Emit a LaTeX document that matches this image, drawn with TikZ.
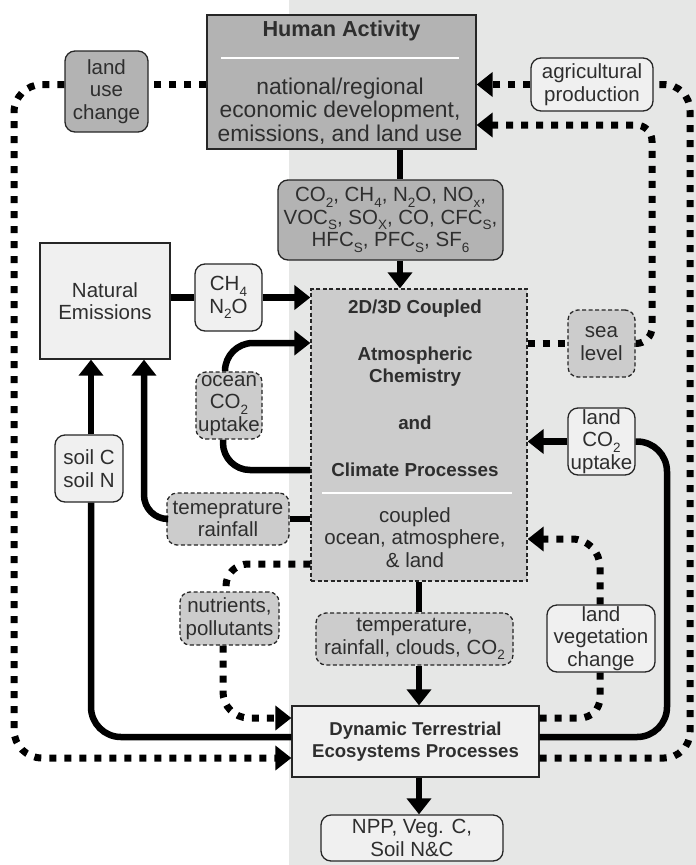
\documentclass[tikz,border=0pt]{standalone}
\usepackage{fontspec}
\setmainfont{Liberation Sans}
\usetikzlibrary{arrows.meta}
\definecolor{bg}{HTML}{E6E7E6}
\definecolor{dgray}{HTML}{B3B3B3}
\definecolor{mgray}{HTML}{CCCCCC}
\definecolor{lgray}{HTML}{F0F0F0}
\definecolor{txt}{HTML}{2E2E2E}
\newcommand\subs[1]{\raisebox{-0.28em}{\fontsize{13.5}{13.5}\selectfont #1}}
\tikzset{
  thk/.style={line width=6.5pt, draw=black},
  dots/.style={line width=7pt, draw=black, dash pattern=on 7pt off 8pt},
  tip/.style={-{Triangle[length=16pt,width=24pt]}},
  boxbase/.style={draw=black!85, line width=1.3pt, text=txt, inner sep=0pt, align=center,
    font=\fontsize{20.5}{22.5}\selectfont},
  dbox/.style={boxbase, fill=dgray},
  mbox/.style={boxbase, fill=mgray, dash pattern=on 4pt off 2.5pt},
  lbox/.style={boxbase, fill=lgray},
  rnd/.style={rounded corners=10pt},
  bfont/.style={text=txt, font=\bfseries\fontsize{18.8}{22.5}\selectfont, align=center},
  rfont/.style={text=txt, font=\fontsize{20.5}{22.5}\selectfont, align=center},
}
\begin{document}
\begin{tikzpicture}[x=1pt,y=-1pt]
\useasboundingbox (0,0) rectangle (696,865);
\fill[bg] (289,0) rectangle (696,865);

% boxes
\node[dbox, minimum width=269pt, minimum height=134pt] (ha) at (341.5,82) {};
\node[text=txt, font=\bfseries\fontsize{21.7}{24}\selectfont] (hat) at (341.5,31) {Human Activity};
\draw[white, line width=2pt] (221,58) -- (459,58);
\node[text=txt, align=center, font=\fontsize{22.8}{23.5}\selectfont] (hab) at (340,111)
  {national/regional\\economic development,\\emissions, and land use};

\node[dbox, rnd, minimum width=225pt, minimum height=80pt] (em) at (390.5,220)
  {CO\subs{2}, CH\subs{4}, N\subs{2}O, NO\subs{x},\\VOC\subs{S}, SO\subs{X}, CO, CFC\subs{S},\\HFC\subs{S}, PFC\subs{S}, SF\subs{6}};

\node[mbox, minimum width=216pt, minimum height=292pt] (cp) at (419,435) {};
\node[bfont] (cp1) at (415,309) {2D/3D Coupled};
\node[bfont] (cp2) at (415,366.5) {Atmospheric\\Chemistry};
\node[bfont] (cp3) at (415,423) {and};
\node[bfont] (cp4) at (415,470) {Climate Processes};
\draw[white, line width=2pt] (322,493) -- (512,493);
\node[rfont] (cp5) at (415,537.5) {coupled\\ocean, atmosphere,\\\& land};

\node[lbox, minimum width=130pt, minimum height=116pt] (ne) at (105,301) {Natural\\Emissions};
\node[lbox, rnd, minimum width=67pt, minimum height=67pt] (ch) at (228.5,297.5) {CH\subs{4}\\N\subs{2}O};
\node[mbox, rnd, minimum width=66pt, minimum height=67pt] (oc) at (229,405.5) {ocean\\CO\subs{2}\\uptake};
\node[lbox, rnd, minimum width=67pt, minimum height=67pt] (lc) at (601.5,441.5) {land\\CO\subs{2}\\uptake};
\node[mbox, rnd, minimum width=67pt, minimum height=67pt] (sl) at (601.5,343.5) {sea\\level};
\node[lbox, rnd, minimum width=122pt, minimum height=53pt] (ag) at (592,84.5) {agricultural\\production};
\node[dbox, rnd, minimum width=83pt, minimum height=81pt] (lu) at (106.5,91.5) {land\\use\\change};
\node[lbox, rnd, minimum width=68pt, minimum height=67pt] (so) at (89,468.5) {soil C\\soil N};
\node[mbox, rnd, minimum width=122pt, minimum height=52pt] (tr) at (228,519) {temeprature\\rainfall};
\node[mbox, rnd, minimum width=99pt, minimum height=53pt] (nu) at (229.5,618.5) {nutrients,\\pollutants};
\node[mbox, rnd, minimum width=197pt, minimum height=52pt] (tc) at (414.5,639) {temperature,\\rainfall, clouds, CO\subs{2}};
\node[lbox, rnd, minimum width=108pt, minimum height=67pt] (lv) at (601,638.5) {land\\vegetation\\change};
\node[lbox, minimum width=247pt, minimum height=71pt, font=\bfseries\fontsize{18.6}{22.5}\selectfont] (dy) at (415.5,741.5)
  {Dynamic Terrestrial\\Ecosystems Processes};
\node[lbox, rnd, minimum width=182pt, minimum height=46pt] (np) at (412,838) {NPP, Veg. C,\\Soil N\&C};

% helper coordinates
\coordinate (c400) at (400,0);
\coordinate (c419) at (419,0);
\coordinate (oTop) at (225,343);
\coordinate (oBot) at (223,470);
\coordinate (tC) at (144,519);
\coordinate (sC) at (91,737);
\coordinate (L1) at (14,84.5);
\coordinate (L2) at (14,758);
\coordinate (N1) at (226,564);
\coordinate (N2) at (223,718);
\coordinate (V1) at (600,718);
\coordinate (V2) at (600,539);
\coordinate (R1) at (667,737);
\coordinate (R2) at (667,441.5);
\coordinate (S1) at (652,343.5);
\coordinate (S2) at (652,125);
\coordinate (A1) at (690,758);
\coordinate (A2) at (690,84.5);

% solid connectors
\draw[thk] (ha.south -| c400) -- (em.north -| c400);
\draw[thk,tip] (em.south -| c400) -- (cp.north -| c400);
\draw[thk] (ne.east |- ch.west) -- (ch.west);
\draw[thk,tip] (ch.east) -- (cp.west |- ch.east);
\draw[thk,tip,rounded corners=28pt] (oc.north -| oTop) -- (oTop) -- (cp.west |- oTop);
\draw[thk,rounded corners=27pt] (cp.west |- oBot) -- (oBot) -- (oc.south -| oBot);
\draw[thk] (tr.east) -- (cp.west |- tr.east);
\draw[thk,tip,rounded corners=24pt] (tr.west) -- (tC) -- (ne.south -| tC);
\draw[thk,rounded corners=30pt] (dy.west |- sC) -- (sC) -- (so.south -| sC);
\draw[thk,tip] (so.north -| sC) -- (ne.south -| sC);
\draw[thk] (cp.south -| c419) -- (tc.north -| c419);
\draw[thk,tip] (tc.south -| c419) -- (dy.north -| c419);
\draw[thk,tip] (dy.south -| c419) -- (np.north -| c419);
\draw[thk,rounded corners=30pt] (dy.east |- R1) -- (R1) -- (R2) -- (lc.east);
\draw[thk,tip] (lc.west) -- (cp.east |- lc.west);

% dotted connectors
\draw[dots] (ha.west |- L1) -- (lu.east |- L1);
\draw[dots,tip,rounded corners=28pt] (lu.west |- L1) -- (L1) -- (L2) -- (dy.west |- L2);
\draw[dots,rounded corners=22pt] (cp.west |- N1) -- (N1) -- (nu.north -| N1);
\draw[dots,tip,rounded corners=26pt] (nu.south -| N2) -- (N2) -- (dy.west |- N2);
\draw[dots,rounded corners=20pt] (dy.east |- V1) -- (V1) -- (lv.south -| V1);
\draw[dots,tip,rounded corners=28pt] (lv.north -| V1) -- (V2) -- (cp.east |- V2);
\draw[dots] (cp.east |- sl.west) -- (sl.west);
\draw[dots,tip,rounded corners=16pt] (sl.east) -- (S1) -- (S2) -- (ha.east |- S2);
\draw[dots,rounded corners=26pt] (dy.east |- A1) -- (A1) -- (A2) -- (ag.east);
\draw[dots,tip] (ag.west) -- (ha.east |- ag.west);
\end{tikzpicture}
\end{document}
